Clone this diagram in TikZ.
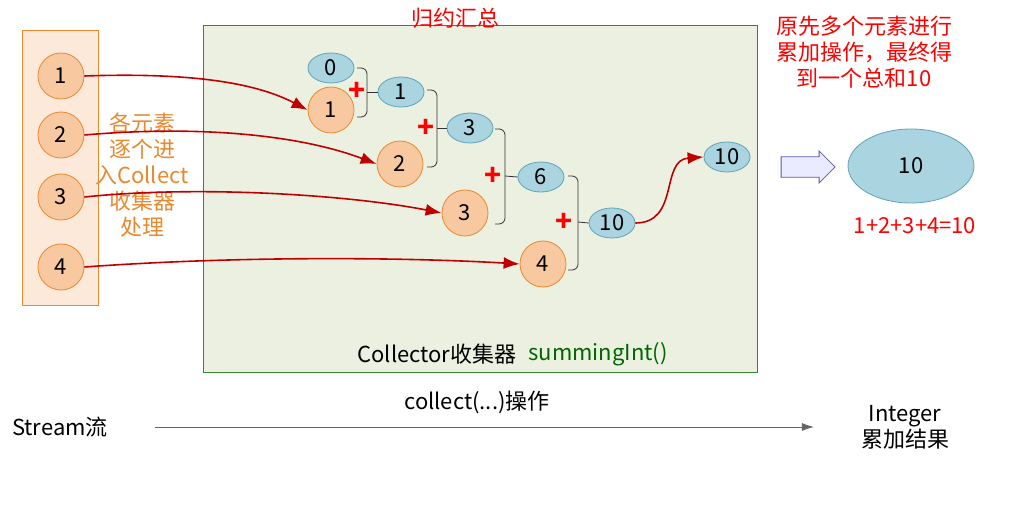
\documentclass[tikz,border=0pt]{standalone}
\usepackage{fontspec}
\setmainfont{Noto Sans CJK SC}
\usetikzlibrary{positioning,shapes.geometric,shapes.arrows,arrows.meta}
\definecolor{elemOrange}{HTML}{F8C9A0}
\definecolor{elemBorder}{HTML}{E8892E}
\definecolor{ovalBlue}{HTML}{A9D4E0}
\definecolor{ovalBorder}{HTML}{5FA3B8}
\definecolor{boxGreen}{HTML}{EBF0E1}
\definecolor{arrowRed}{HTML}{C00000}
\tikzset{
	%Diagrammes style
	element/.style={
		draw=elemBorder,
		fill=elemOrange,
		circle,
		minimum size=23pt,
		inner sep=0pt,
		font=\fontsize{11}{11}\selectfont,
	},
	partial/.style={
		draw=ovalBorder,
		fill=ovalBlue,
		ellipse,
		minimum width=23pt,
		minimum height=15pt,
		inner sep=0pt,
		font=\fontsize{11}{11}\selectfont,
	},
	feed/.style={
		arrowRed,
		thick,
		-{Latex[length=8pt,width=6pt]},
	},
	merge/.style={
		black!80,
		thin,
		rounded corners=3pt,
	},
	plusSign/.style={
		text=red,
		font=\bfseries\fontsize{14}{14}\selectfont,
		inner sep=0pt,
	},
	label/.style={
		font=\fontsize{11}{13}\selectfont,
		align=center,
	}
}
\begin{document}
\begin{tikzpicture}[x=0.5pt,y=-0.5pt]
	\useasboundingbox (0,0) rectangle (1031,507);
	\node(stream) at (22,30) [draw=elemBorder, fill=elemOrange!40, minimum width=38pt, minimum height=137.5pt, anchor=north west] {};
	\node(collector) at (203,25) [draw=black!45!green!60!gray, fill=boxGreen, minimum width=277pt, minimum height=173.5pt, anchor=north west] {};
	\node [label, text=red] (title) at (455,18) {归约汇总};

	\node [element] (e1) at (61,76) {1};
	\node [element] (e2) at (61,135) {2};
	\node [element] (e3) at (61,197) {3};
	\node [element] (e4) at (61,267) {4};
	\node [label, text=elemBorder] (enter) at (142,175) {各元素\\逐个进\\入Collect\\收集器\\处理};

	\node [partial] (p0) at (331,68) {0};
	\node [element] (c1) at (331,110) {1};
	\node [partial] (p1) at (401,92) {1};
	\node [element] (c2) at (400,164) {2};
	\node [partial] (p3) at (470,128) {3};
	\node [element] (c3) at (465,213) {3};
	\node [partial] (p6) at (541,177) {6};
	\node [element] (c4) at (543,264) {4};
	\node [partial] (p10) at (612,223) {10};
	\node [partial] (result) at (727,157) {10};

	% brackets
	\draw[merge] (357,68) -| (367,117) -- (357,117);
	\draw[merge] (367,92) -- (p1.west);
	\draw[merge] (427,90) -| (437,167) -- (427,167);
	\draw[merge] (437,128) -- (p3.west);
	\draw[merge] (495,129) -| (505,224) -- (495,224);
	\draw[merge] (505,176) -- (p6.west);
	\draw[merge] (568,176) -| (578,270) -- (568,270);
	\draw[merge] (578,222) -- (p10.west);
	\node [plusSign] (plus1) at (357,91) {+};
	\node [plusSign] (plus2) at (426,128) {+};
	\node [plusSign] (plus3) at (493,176) {+};
	\node [plusSign] (plus4) at (564,222) {+};

	\draw[feed] (e1.east) .. controls (200,72) and (260,85) .. (c1.west);
	\draw[feed] (e2.east) .. controls (200,125) and (300,135) .. (c2.west);
	\draw[feed] (e3.east) .. controls (200,185) and (350,195) .. (c3.west);
	\draw[feed] (e4.east) .. controls (250,255) and (420,258) .. (c4.west);
	\draw[feed] (p10.east) .. controls (680,223) and (660,160) .. (result.west);

	\node [single arrow, draw=gray!70!blue, fill=blue!8, minimum height=27pt, minimum width=16pt, single arrow head extend=2pt] (toTotal) at (803,167) {};
	\node [ellipse, draw=ovalBorder, fill=ovalBlue, minimum width=63pt, minimum height=37pt, font=\fontsize{11}{11}\selectfont] (total) at (911,166) {10};
	\node [label, text=red] (sum) at (915,226) {1+2+3+4=10};
	\node [label, text=red] (note) at (864,52) {原先多个元素进行\\累加操作，最终得\\到一个总和10};

	\node [label] (collectorName) at (437,354) {Collector收集器};
	\node [label, text=green!40!black] (summing) at (598,354) {summingInt()};

	\node [label] (streamName) at (60,427) {Stream流};
	\node [label] (integer) at (905,427) {Integer\\累加结果};
	\node [label] (collectOp) at (477,402) {collect(...)操作};
	\draw[-{Latex[length=6pt,width=4pt]}, gray!80!black] ([xshift=20pt]streamName.east) -- ([xshift=-20pt]integer.west);
\end{tikzpicture}
\end{document}
